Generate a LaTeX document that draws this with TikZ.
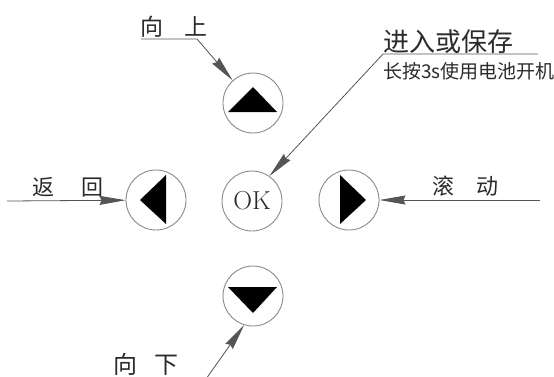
\documentclass[tikz,border=0pt]{standalone}
\usepackage{fontspec}
\newfontfamily\cjk{Noto Sans CJK SC}
\usetikzlibrary{arrows.meta}
\definecolor{circgray}{HTML}{8A8A8A}
\definecolor{linegray}{HTML}{555555}
\definecolor{txtgray}{HTML}{2A2A2A}
\begin{document}
\begin{tikzpicture}[x=1pt,y=-1pt,
  btn/.style={circle,draw=circgray,line width=0.9pt,minimum size=60pt,inner sep=0pt},
  lbl/.style={anchor=base west,inner sep=0pt,text=txtgray,font=\cjk},
  lead/.style={draw=linegray,line width=0.8pt,-{Stealth[length=26pt,width=9pt,inset=2pt]}},
  tri/.style={fill=black,draw=none}]
\useasboundingbox (0,0) rectangle (554,376);
% buttons
\node[btn] (up) at (253,103) {};
\node[btn] (left) at (156,200) {};
\node[btn,font=\fontsize{26}{26}\selectfont,text=txtgray] (ok) at (252,201) {OK};
\node[btn] (right) at (349,200) {};
\node[btn] (down) at (253,296) {};
% triangles
\fill[tri] (228,112) -- (253,87) -- (277,112) -- cycle;
\fill[tri] (140,200) -- (166,175) -- (166,224) -- cycle;
\fill[tri] (366,200) -- (340,175) -- (340,224) -- cycle;
\fill[tri] (228,287) -- (277,287) -- (253,313) -- cycle;
% labels
\node[lbl,font=\cjk\fontsize{23}{23}\selectfont] (tup) at (140,35.5) {向\hspace{21pt}上};
\node[lbl,font=\cjk\fontsize{26}{26}\selectfont] (tok) at (383,51) {进入或保存};
\node[lbl,font=\cjk\fontsize{19}{19}\selectfont] (tok2) at (383,78.5) {长按3s使用电池开机};
\node[lbl,font=\cjk\fontsize{22}{22}\selectfont] (tleft) at (32,195.5) {返\hspace{27pt}回};
\node[lbl,font=\cjk\fontsize{22}{22}\selectfont] (tright) at (432,194.5) {滚\hspace{22pt}动};
\node[lbl,font=\cjk\fontsize{24}{24}\selectfont] (tdown) at (113,373) {向\hspace{17pt}下};
% leader coordinates
\coordinate (upA) at (141,39);
\coordinate (upB) at (197,39);
\coordinate (okA) at (538,54);
\coordinate (okB) at (383,54);
\coordinate (leftA) at (7,201);
\coordinate (rightA) at (540,200);
\coordinate (downA) at (206,379);
% leaders
\draw[lead] (upA) -- (upB) -- (up.132);
\draw[lead] (okA) -- (okB) -- (ok.55);
\draw[lead] (leftA) -- (left);
\draw[lead] (rightA) -- (right);
\draw[lead] (downA) -- (down.253);
\end{tikzpicture}
\end{document}
